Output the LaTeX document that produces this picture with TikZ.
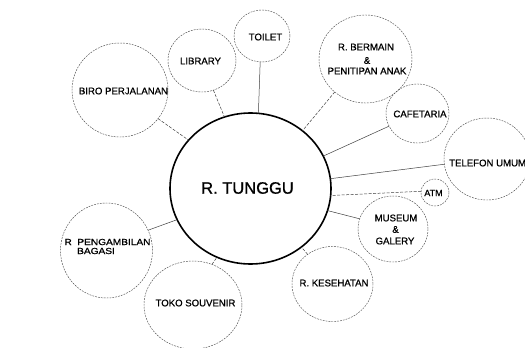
\documentclass[tikz,border=0pt]{standalone}
\usepackage{fontspec}
\setmainfont{Liberation Sans}[FakeBold=0.9]
\newfontfamily\widefont[FakeStretch=1.15,FakeBold=0.9]{Liberation Sans}
\usetikzlibrary{shapes.geometric}
\tikzset{
  bubble/.style={ellipse, draw=black!70, line width=0.45pt, dash pattern=on 1.8pt off 1.1pt, inner sep=0pt, outer sep=0pt},
  hub/.style={ellipse, draw=black, line width=1.6pt, inner sep=0pt, outer sep=0pt},
  link/.style={draw=black!75, line width=0.5pt},
  linkd/.style={draw=black!75, line width=0.5pt, dash pattern=on 3pt off 1.5pt},
  lbl/.style={inner sep=0pt, font=\fontsize{9.6}{11}\selectfont, text=black, align=center},
  biglbl/.style={inner sep=0pt, font=\fontsize{16.5}{18}\selectfont, text=black}
}
\begin{document}
\begin{tikzpicture}[x=1pt,y=-1pt]
\useasboundingbox (0,0) rectangle (525,348);
\clip (0,0) rectangle (525,348);
\fill[white] (0,0) rectangle (525,348);

% central
\node[hub, minimum width=161pt, minimum height=151pt] (tunggu) at (250.5,188.5) {};
\node[biglbl] (tunggut) at (247.5,188) {R. TUNGGU};

% satellites
\node[bubble, minimum width=96pt, minimum height=94pt] (biro) at (120,90) {};
\node[lbl] (birot) at (123.5,91) {BIRO PERJALANAN};

\node[bubble, minimum width=68pt, minimum height=63pt] (library) at (202,60.5) {};
\node[lbl] (libraryt) at (200.5,61) {LIBRARY};

\node[bubble, minimum width=56pt, minimum height=52pt] (toilet) at (262,36) {};
\node[lbl] (toilett) at (265.5,37) {TOILET};

\node[bubble, minimum width=93pt, minimum height=88pt] (bermain) at (365.5,59) {};
\node[lbl] (bermaint1) at (366,47) {R. BERMAIN};
\node[lbl] (bermaint2) at (367,60.5) {\&};
\node[lbl] (bermaint3) at (367,71) {PENITIPAN ANAK};

\node[bubble, minimum width=63pt, minimum height=59pt] (cafe) at (417.5,113.5) {};
\node[lbl] (cafet) at (420,114) {CAFETARIA};

\node[bubble, minimum width=86pt, minimum height=82pt] (telefon) at (487,159) {};
\node[lbl, anchor=west] (telefont) at (449,163) {TELEFON UMUM};

\node[bubble, minimum width=28pt, minimum height=27pt] (atm) at (435,192.5) {};
\node[lbl, font=\fontsize{9}{10}\selectfont] (atmt) at (433.5,193) {ATM};

\node[bubble, minimum width=70pt, minimum height=66pt] (museum) at (393,229) {};
\node[lbl] (museumt1) at (396,218) {MUSEUM};
\node[lbl] (museumt2) at (395.5,229.5) {\&};
\node[lbl] (museumt3) at (395,241) {GALERY};

\node[bubble, minimum width=81pt, minimum height=75pt] (kesehatan) at (332.5,284) {};
\node[lbl] (kesehatant) at (334,283) {R. KESEHATAN};

\node[bubble, minimum width=92pt, minimum height=95pt] (bagasi) at (106.5,250.5) {};
\node[lbl, font=\widefont\fontsize{8.8}{10}\selectfont] (bagasit1) at (107.5,242) {R\ \ PENGAMBILAN};
\node[lbl, font=\widefont\fontsize{8.8}{10}\selectfont] (bagasit2) at (96,251) {BAGASI};

\node[bubble, minimum width=98pt, minimum height=88pt] (toko) at (193,305) {};
\node[lbl] (tokot) at (195.5,303) {TOKO SOUVENIR};

% connectors
\draw[linkd] (biro.-37) -- (tunggu.142);
\draw[linkd] (library.-69) -- (tunggu.110.6);
\draw[link] (toilet.-94) -- (tunggu.84.7);
\draw[linkd] (bermain.-133) -- (tunggu.48);
\draw[link] (cafe.-156.6) -- (tunggu.24.4);
\draw[link] (telefon.-173) -- (tunggu.7.6);
\draw[linkd] (atm.175) -- (tunggu.-5.6);
\draw[link] (museum.163.6) -- (tunggu.-16);
\draw[linkd] (kesehatan.130) -- (tunggu.-49);
\draw[link] (bagasi.26) -- (tunggu.-157);
\draw[linkd] (toko.65.7) -- (tunggu.-116);
\end{tikzpicture}
\end{document}
